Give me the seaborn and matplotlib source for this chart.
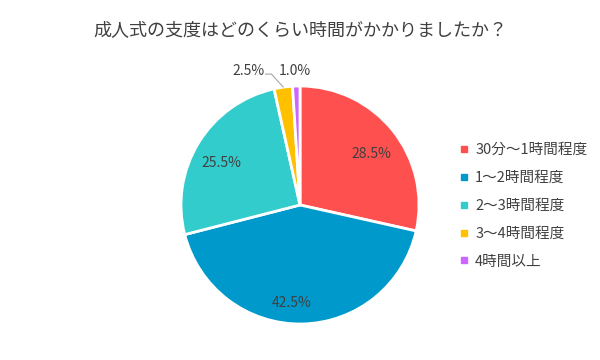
import numpy as np
import matplotlib
matplotlib.use('Agg')
import matplotlib.pyplot as plt
import seaborn as sns
from matplotlib.lines import Line2D

title = '成人式の支度はどのくらい時間がかかりましたか？'
categories = ['30分～1時間程度', '1～2時間程度', '2～3時間程度', '3～4時間程度', '4時間以上']
values = [28.5, 42.5, 25.5, 2.5, 1.0]
colors = ['#FF5050', '#0099CC', '#33CCCC', '#FFC000', '#CC66FF']

sns.set_theme(style='white')
plt.rcParams['font.family'] = ['Noto Sans CJK JP', 'DejaVu Sans']
text_color = '#404040'

fig = plt.figure(figsize=(6, 3.6), dpi=100)
ax = fig.add_axes([181 / 600, 36 / 360, 238 / 600, 238 / 360])

wedges, texts, autotexts = ax.pie(
    values, colors=colors, startangle=90, counterclock=False,
    autopct='%.1f%%', pctdistance=0.77,
    wedgeprops=dict(edgecolor='white', linewidth=2),
    textprops=dict(color=text_color, fontsize=10),
)
ax.set_xlim(-1, 1)
ax.set_ylim(-1, 1)
ax.set_aspect('equal')

# nudge inside labels a little lower, like the original
for i, dx in ((0, 0.0), (1, -0.08), (2, 0.0)):
    x, y = autotexts[i].get_position()
    autotexts[i].set_position((x + dx, y - 0.05))

# small slices: labels outside the pie
autotexts[3].set_position((-0.43, 1.13))
autotexts[4].set_position((-0.04, 1.13))
for i in (3, 4):
    autotexts[i].set_ha('center')
    autotexts[i].set_va('center')
ax.plot([-0.29, -0.24, -0.14], [1.10, 1.10, 0.99], color='#A6A6A6', lw=0.8, clip_on=False)

fig.text(0.5, 1 - 30 / 360, title, ha='center', va='center', fontsize=13, color=text_color)

handles = [Line2D([], [], marker='s', linestyle='none', markersize=5, color=c) for c in colors]
leg = fig.legend(handles, categories, loc='upper left', bbox_to_anchor=(446 / 600, 1 - 130 / 360),
                 frameon=False, handlelength=0.6, handletextpad=0.5, labelspacing=0.95,
                 fontsize=10.5, labelcolor=text_color)

fig.savefig('out.png', dpi=100, facecolor='white')
